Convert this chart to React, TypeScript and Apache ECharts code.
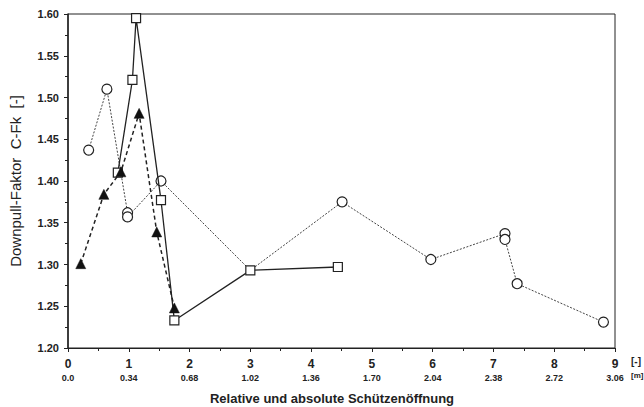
import React, { useEffect, useRef } from "react";
import * as echarts from "echarts";

// Relative opening [-] (x) and Downpull factor C-Fk [-] (y)
const circleX = [0.34, 0.64, 0.98, 0.98, 1.53, 3.0, 4.51, 5.97, 7.19, 7.19, 7.39, 8.81];
const circleY = [1.437, 1.51, 1.362, 1.357, 1.4, 1.293, 1.375, 1.306, 1.337, 1.33, 1.277, 1.231];
const circleHidden = [5]; // passes through the square at x=3 without its own marker

const squareX = [0.82, 1.06, 1.12, 1.53, 1.75, 3.0, 4.44];
const squareY = [1.41, 1.521, 1.595, 1.377, 1.233, 1.293, 1.297];

const triX = [0.21, 0.59, 0.87, 1.17, 1.46, 1.75];
const triY = [1.301, 1.384, 1.411, 1.481, 1.339, 1.248];

const xTop = ["0", "1", "2", "3", "4", "5", "6", "7", "8", "9"];
const xBottom = ["0.0", "0.34", "0.68", "1.02", "1.36", "1.70", "2.04", "2.38", "2.72", "3.06"];

const FONT = "Liberation Sans, Arial, sans-serif";

export default function App() {
  const ref = useRef<HTMLDivElement>(null);
  useEffect(() => {
    if (!ref.current) return;
    const chart = echarts.init(ref.current, null, { renderer: "svg" });
    const pairs = (xs: number[], ys: number[]) => xs.map((x, i) => [x, ys[i]]);
    const circleData = circleX.map((x, i) =>
      circleHidden.includes(i) ? { value: [x, circleY[i]], symbol: "none" } : { value: [x, circleY[i]] }
    );
    chart.setOption({
      animation: false,
      backgroundColor: "#fff",
      grid: {
        left: 67,
        right: 29,
        top: 14,
        bottom: 59,
        show: true,
        borderColor: "#222",
        borderWidth: 1,
      },
      xAxis: {
        type: "value",
        min: 0,
        max: 9,
        interval: 1,
        axisLine: { show: true, onZero: false, lineStyle: { color: "#222", width: 1.2 } },
        axisTick: { show: true, length: 4, lineStyle: { color: "#222" } },
        minorTick: { show: true, splitNumber: 2, length: 3, lineStyle: { color: "#222" } },
        splitLine: { show: false },
        axisLabel: {
          margin: 8,
          showMinLabel: true,
          showMaxLabel: true,
          formatter: (v: number) => {
            const i = Math.round(v);
            return `{a|${xTop[i]}}\n{b|${xBottom[i]}}`;
          },
          rich: {
            a: { fontFamily: FONT, fontSize: 12, fontWeight: "bold", color: "#222", lineHeight: 15 },
            b: { fontFamily: FONT, fontSize: 9, fontWeight: "bold", color: "#222", lineHeight: 13 },
          },
        },
      },
      yAxis: {
        type: "value",
        min: 1.2,
        max: 1.6,
        interval: 0.05,
        name: "Downpull-Faktor  C-Fk  [-]",
        nameLocation: "middle",
        nameGap: 45,
        nameTextStyle: { fontFamily: FONT, fontSize: 15, color: "#222" },
        axisLine: { show: true, lineStyle: { color: "#222", width: 1.5 } },
        axisTick: { show: true, length: 4, lineStyle: { color: "#222" } },
        minorTick: { show: true, splitNumber: 2, length: 3, lineStyle: { color: "#222" } },
        splitLine: { show: false },
        axisLabel: {
          margin: 9,
          fontFamily: FONT,
          fontSize: 11,
          fontWeight: "bold",
          color: "#222",
          formatter: (v: number) => v.toFixed(2),
        },
      },
      graphic: [
        {
          type: "text",
          left: 631,
          top: 356,
          style: { text: "[-]", fontFamily: FONT, fontSize: 10, fontWeight: "bold", fill: "#222" },
        },
        {
          type: "text",
          left: 631,
          top: 371,
          style: { text: "[m]", fontFamily: FONT, fontSize: 8, fontWeight: "bold", fill: "#222" },
        },
        {
          type: "text",
          x: 332,
          y: 398,
          style: {
            text: "Relative und absolute Schützenöffnung",
            fontFamily: FONT,
            fontSize: 13,
            fontWeight: "bold",
            fill: "#222",
            textAlign: "center",
            textVerticalAlign: "middle",
          },
        },
      ],
      series: [
        {
          type: "line",
          data: circleData,
          symbol: "circle",
          symbolSize: 10,
          z: 2,
          lineStyle: { color: "#444", width: 1, type: [2, 1.5] },
          itemStyle: { color: "#fff", borderColor: "#222", borderWidth: 1.2 },
        },
        {
          type: "line",
          data: pairs(squareX, squareY),
          symbol: "rect",
          symbolSize: 9,
          z: 3,
          lineStyle: { color: "#222", width: 1.3 },
          itemStyle: { color: "#fff", borderColor: "#222", borderWidth: 1.2 },
        },
        {
          type: "line",
          data: pairs(triX, triY),
          symbol: "triangle",
          symbolSize: 10,
          z: 4,
          lineStyle: { color: "#222", width: 1.5, type: [4, 3] },
          itemStyle: { color: "#111", borderColor: "#111", borderWidth: 0.5 },
        },
      ],
    });
    return () => chart.dispose();
  }, []);
  return (
    <div
      ref={ref}
      style={{ position: "absolute", left: 0, top: 0, width: 644, height: 407, overflow: "hidden" }}
    />
  );
}
